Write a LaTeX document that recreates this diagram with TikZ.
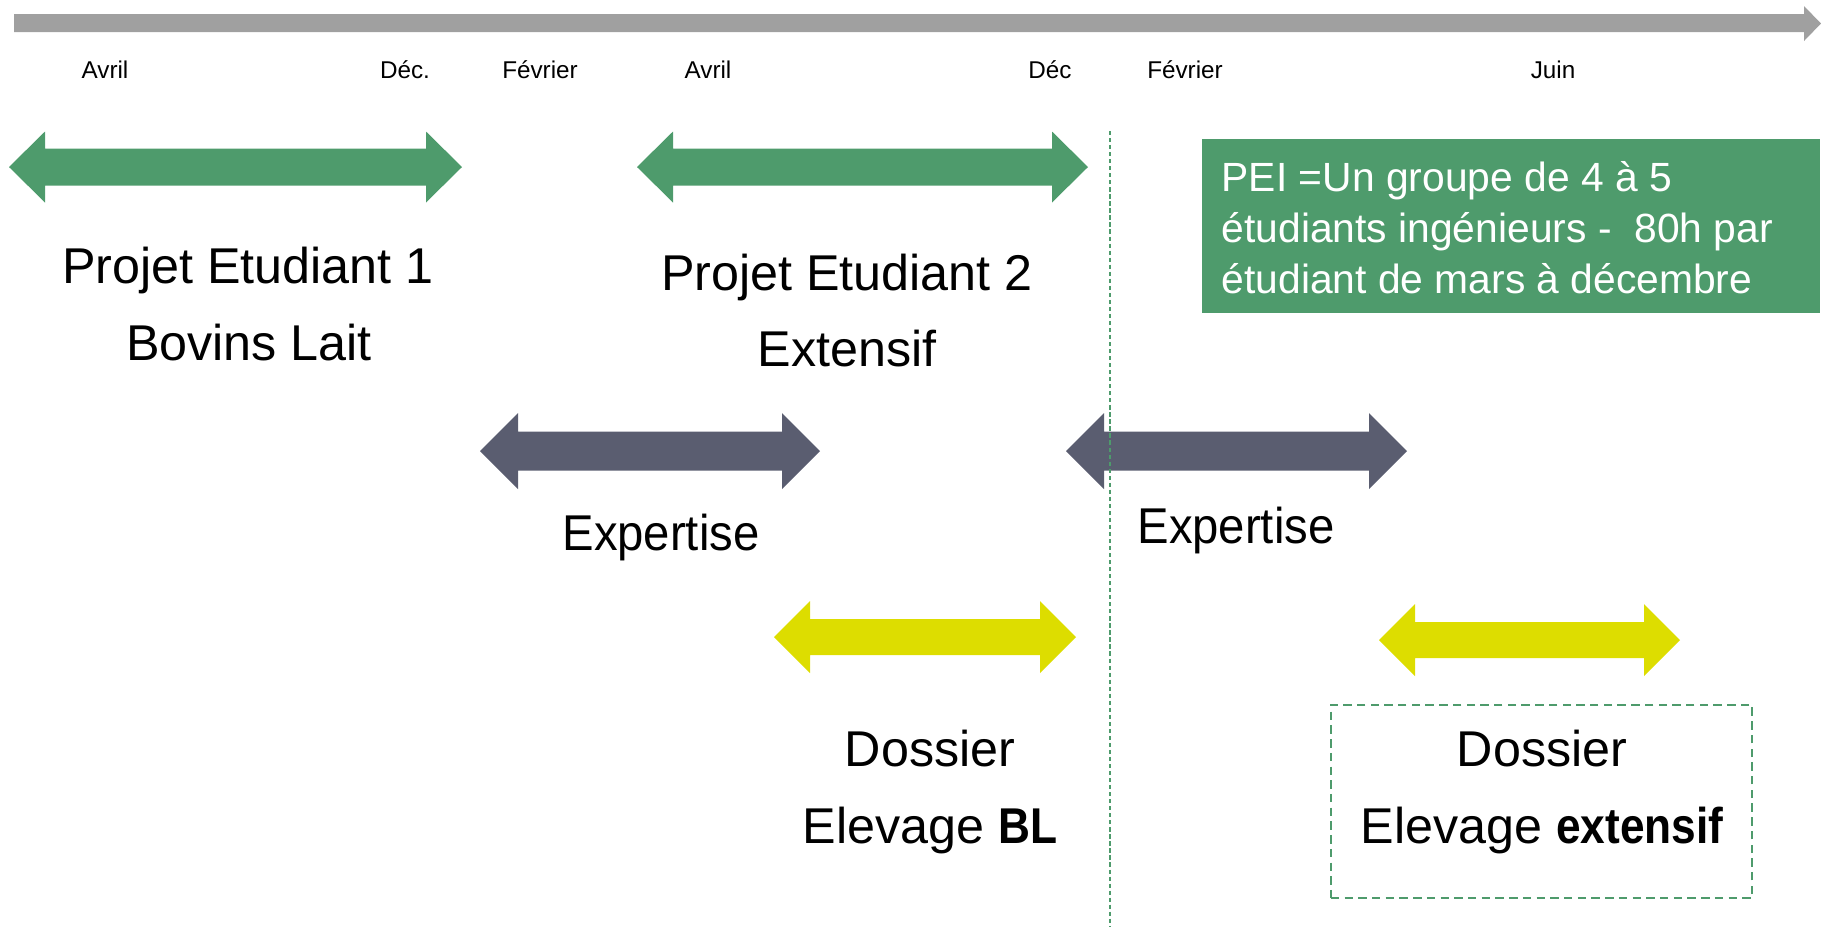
\documentclass[tikz,border=0pt]{standalone}
\usepackage{fontspec}
\setmainfont{Liberation Sans}[BoldFeatures={FakeStretch=0.88}]
\newfontfamily\narrowsans{Liberation Sans}[FakeStretch=0.94]
\definecolor{pgreen}{RGB}{78,155,108}
\definecolor{pgrey}{RGB}{90,93,112}
\definecolor{pyellow}{RGB}{221,221,0}
\definecolor{tgrey}{RGB}{160,160,160}
% double arrow: x1, x2, yc, shaft half, head half, head length, colour
\newcommand\DArrow[7]{%
  \fill[#7] (#1,#3) -- (#1+#6,#3-#5) -- (#1+#6,#3-#4) -- (#2-#6,#3-#4) -- (#2-#6,#3-#5) -- (#2,#3)
    -- (#2-#6,#3+#5) -- (#2-#6,#3+#4) -- (#1+#6,#3+#4) -- (#1+#6,#3+#5) -- cycle;}
\tikzset{
  month/.style={font=\fontsize{6.9}{8}\selectfont, anchor=base, inner sep=0pt},
  big/.style={font=\fontsize{14.3}{17}\selectfont, anchor=base, inner sep=0pt},
  bignarrow/.style={font=\narrowsans\fontsize{14.3}{17}\selectfont, anchor=base, inner sep=0pt},
  peitext/.style={font=\fontsize{11.6}{14}\selectfont, text=white, anchor=base west, inner sep=0pt},
  peibox/.style={fill=pgreen, minimum width=6.18cm, minimum height=1.74cm, inner sep=0pt},
  dashbox/.style={draw=pgreen, line width=0.6pt, dash pattern=on 2.4pt off 1.5pt, minimum width=4.21cm, minimum height=1.93cm, inner sep=0pt},
  vline/.style={draw=pgreen, line width=0.5pt, dash pattern=on 1.2pt off 0.8pt},
}
\begin{document}
\begin{tikzpicture}[x=0.01cm, y=-0.01cm]
\useasboundingbox (0,0) rectangle (1829,926);
% timeline
\fill[tgrey] (14,14) -- (1804,14) -- (1804,6) -- (1821,23.5) -- (1804,41) -- (1804,32) -- (14,32) -- cycle;
% months
\node[month] (m1) at (105,78) {Avril};
\node[month] (m2) at (405,78) {Déc.};
\node[month] (m3) at (540,78) {Février};
\node[month] (m4) at (708,78) {Avril};
\node[month] (m5) at (1050,78) {Déc};
\node[month] (m6) at (1185,78) {Février};
\node[month] (m7) at (1553,78) {Juin};
% green arrows
\DArrow{9}{462}{167}{18.5}{35.5}{36}{pgreen}
\DArrow{637}{1088}{167}{18.5}{35.5}{36}{pgreen}
% grey arrows
\DArrow{480}{820}{451}{19.5}{38}{38}{pgrey}
\DArrow{1066}{1407}{451}{19.5}{38}{38}{pgrey}
% yellow arrows
\DArrow{774}{1076}{637}{18}{36}{36}{pyellow}
\DArrow{1379}{1680}{640}{18}{36}{36}{pyellow}
% texts
\node[big] (p1a) at (248,283) {Projet Etudiant 1};
\node[big] (p1b) at (249,360) {Bovins Lait};
\node[big] (p2a) at (847,290) {Projet Etudiant 2};
\node[big] (p2b) at (847,366) {Extensif};
\node[bignarrow] (e1) at (661,550) {Expertise};
\node[bignarrow] (e2) at (1236,543) {Expertise};
\node[big] (d1a) at (930,766) {Dossier};
\node[big] (d1b) at (930,843) {Elevage \textbf{BL}};
% dashed box
\node[dashbox] (dbox) at (1541.5,801.5) {};
\node[big] (d2a) at (1542,766) {Dossier};
\node[big] (d2b) at (1542,843) {Elevage \textbf{extensif}};
% PEI box
\node[peibox] (pei) at (1511,226) {};
\node[peitext] (pei1) at (1221,191) {PEI =Un groupe de 4 à 5};
\node[peitext] (pei2) at (1221,242) {étudiants ingénieurs -~~80h par};
\node[peitext] (pei3) at (1221,293) {étudiant de mars à décembre};
% vertical dashed line
\coordinate (vtop) at (1110,131);
\coordinate (vbot) at (1110,926);
\draw[vline] (vtop) -- (vbot);
\end{tikzpicture}
\end{document}
